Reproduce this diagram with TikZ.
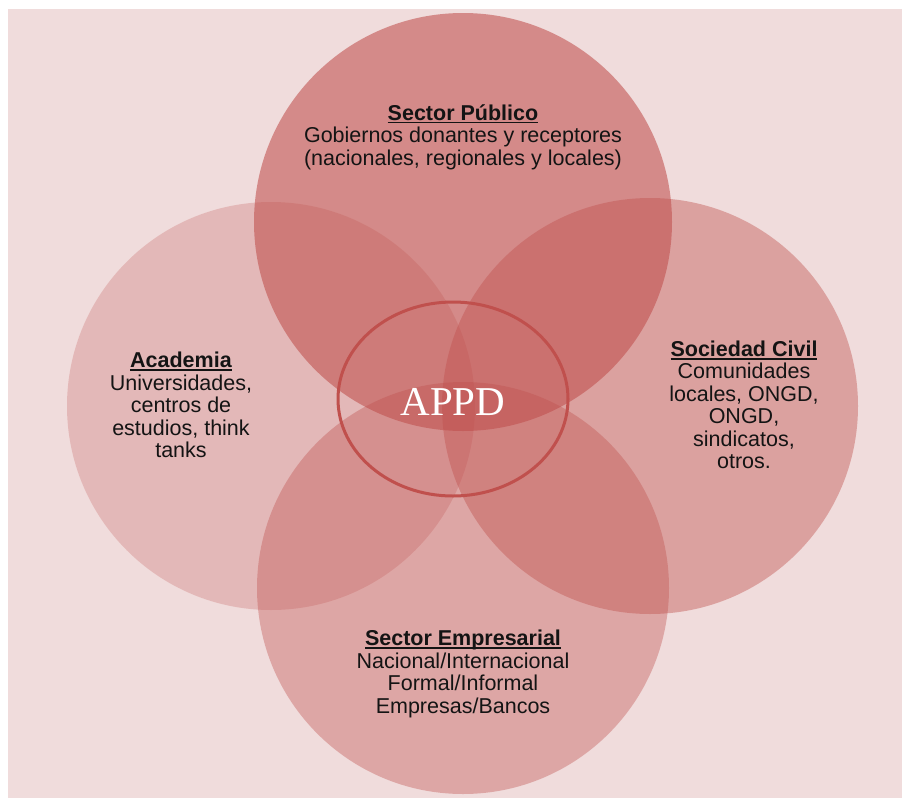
\documentclass[tikz,border=0pt]{standalone}
\usepackage{fontspec}
\usetikzlibrary{shapes.geometric}
\setmainfont{Liberation Sans}
\newfontfamily\serifapp{Liberation Serif}
\definecolor{bgpink}{RGB}{240,220,220}
\definecolor{basered}{RGB}{192,80,77}
\definecolor{txt}{RGB}{20,20,20}
\tikzset{
  venn/.style={fill=basered, draw=none},
  lbl/.style={align=center, text=txt, font=\fontsize{21.5}{22.5}\selectfont, inner sep=0pt},
}
\newcommand{\ttl}[1]{\setbox0=\hbox{\textbf{#1}}\leavevmode\rlap{\copy0}\raisebox{-3.2pt}{\rule{\wd0}{1.8pt}}}
\begin{document}
\begin{tikzpicture}[x=1pt,y=-1pt]
\useasboundingbox (0,0) rectangle (902,798);
\fill[bgpink] (8,9) rectangle (902,798);
\path[venn, fill opacity=0.25] (271,406) circle[radius=204];
\path[venn, fill opacity=0.58] (463,222) circle[radius=209];
\path[venn, fill opacity=0.42] (650,406) circle[radius=208];
\path[venn, fill opacity=0.38] (463,588) circle[radius=206];
\node[draw=basered, line width=3pt, ellipse, minimum width=230pt, minimum height=194pt, inner sep=0pt] (center) at (453,399) {};
\node[text=white, font=\serifapp\fontsize{41}{44}\selectfont] (appd) at (453,402) {APPD};
\node[lbl] (pub) at (463,137) {\ttl{Sector Público}\\Gobiernos donantes y receptores\\(nacionales, regionales y locales)};
\node[lbl] (acad) at (181,405) {\ttl{Academia}\\Universidades,\\centros de\\estudios, think\\tanks};
\node[lbl] (soc) at (744,405) {\ttl{Sociedad Civil}\\Comunidades\\locales, ONGD,\\ONGD,\\sindicatos,\\otros.};
\node[lbl] (emp) at (463,674) {\ttl{Sector Empresarial}\\Nacional/Internacional\\Formal/Informal\\Empresas/Bancos};
\end{tikzpicture}
\end{document}
